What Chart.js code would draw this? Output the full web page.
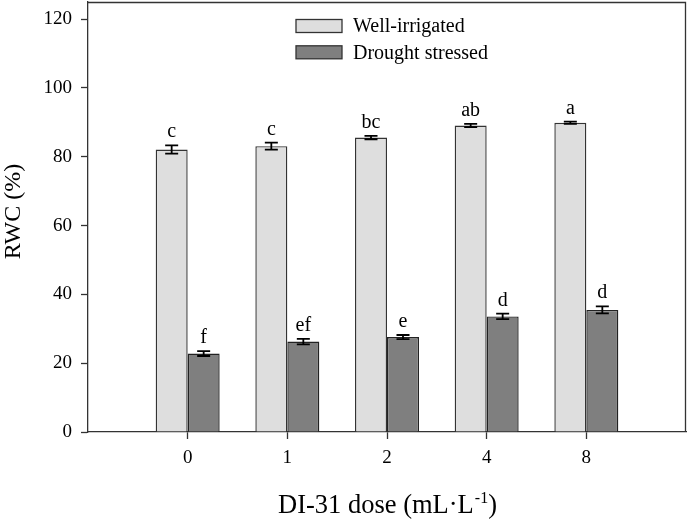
<!DOCTYPE html>
<html>
<head>
<meta charset="utf-8">
<script src="https://cdn.jsdelivr.net/npm/chart.js@4"></script>
<style>
html,body{margin:0;padding:0;background:#fff;}
#wrap{width:688px;height:522px;position:relative;}
</style>
</head>
<body>
<div id="wrap"><canvas id="c" width="688" height="522"></canvas></div>
<script>
const categories = ['0', '1', '2', '4', '8'];
const seriesNames = ['Well-irrigated', 'Drought stressed'];
const wellIrrigated = [82.1, 83.1, 85.6, 89.1, 89.9];
const wellIrrigatedErr = [1.2, 1.0, 0.5, 0.5, 0.3];
const wellIrrigatedLetters = ['c', 'c', 'bc', 'ab', 'a'];
const droughtStressed = [22.8, 26.3, 27.6, 33.6, 35.5];
const droughtStressedErr = [0.7, 0.8, 0.6, 0.8, 1.0];
const droughtStressedLetters = ['f', 'ef', 'e', 'd', 'd'];
const yTicks = [0, 20, 40, 60, 80, 100, 120];

const FONT = '"Liberation Serif", "Times New Roman", serif';
const labels = ['', ...categories, ''];
const pad = arr => [null, ...arr, null];
const errs = [pad(wellIrrigatedErr), pad(droughtStressedErr)];
const letters = [pad(wellIrrigatedLetters), pad(droughtStressedLetters)];

const overlay = {
  id: 'overlay',
  afterDatasetsDraw(chart) {
    const ctx = chart.ctx;
    const ca = chart.chartArea;
    const y = chart.scales.y;
    ctx.save();
    // frame top and right
    ctx.strokeStyle = '#333';
    ctx.lineWidth = 1.3;
    ctx.beginPath();
    ctx.moveTo(ca.left, ca.top + 0.5);
    ctx.lineTo(ca.right - 0.5, ca.top + 0.5);
    ctx.lineTo(ca.right - 0.5, ca.bottom);
    ctx.stroke();
    // error bars and letters
    chart.data.datasets.forEach((ds, di) => {
      const meta = chart.getDatasetMeta(di);
      ds.data.forEach((v, i) => {
        if (v == null) return;
        const bar = meta.data[i];
        const e = errs[di][i];
        const x = bar.x;
        const yt = y.getPixelForValue(v + e);
        const yb = y.getPixelForValue(v - e);
        ctx.strokeStyle = '#000';
        ctx.lineWidth = 1.8;
        ctx.beginPath();
        ctx.moveTo(x, yt); ctx.lineTo(x, yb);
        ctx.moveTo(x - 6.5, yt); ctx.lineTo(x + 6.5, yt);
        ctx.moveTo(x - 6.5, yb); ctx.lineTo(x + 6.5, yb);
        ctx.stroke();
        ctx.fillStyle = '#000';
        ctx.font = '20px ' + FONT;
        ctx.textAlign = 'center';
        ctx.textBaseline = 'alphabetic';
        ctx.fillText(letters[di][i], x, yt - 8);
      });
    });
    // legend
    chart.data.datasets.forEach((ds, di) => {
      const top = 19.5 + di * 26.3;
      ctx.fillStyle = ds.backgroundColor;
      ctx.fillRect(296, top, 46, 13);
      ctx.strokeStyle = '#333';
      ctx.lineWidth = 1.3;
      ctx.strokeRect(296, top, 46, 13);
      ctx.fillStyle = '#000';
      ctx.font = '20px ' + FONT;
      ctx.textAlign = 'left';
      ctx.textBaseline = 'middle';
      ctx.fillText(ds.label, 353, top + 7.5);
    });
    ctx.restore();
  },
  afterDraw(chart) {
    const ctx = chart.ctx;
    ctx.save();
    ctx.fillStyle = '#000';
    // x title with superscript
    ctx.font = '26.5px ' + FONT;
    ctx.textBaseline = 'alphabetic';
    ctx.textAlign = 'left';
    const main = 'DI-31 dose (mL\u00B7L';
    const sup = '-1';
    const close = ')';
    const wMain = ctx.measureText(main).width;
    ctx.font = '16px ' + FONT;
    const wSup = ctx.measureText(sup).width;
    ctx.font = '26.5px ' + FONT;
    const wClose = ctx.measureText(close).width;
    const total = wMain + wSup + wClose;
    let x0 = 387 - total / 2;
    const base = 513;
    ctx.fillText(main, x0, base);
    ctx.font = '16px ' + FONT;
    ctx.fillText(sup, x0 + wMain + 1, base - 10);
    ctx.font = '26.5px ' + FONT;
    ctx.fillText(close, x0 + wMain + wSup + 1, base);
    // y title
    ctx.translate(14, 211.5);
    ctx.rotate(-Math.PI / 2);
    ctx.font = '24px ' + FONT;
    ctx.textAlign = 'center';
    ctx.textBaseline = 'middle';
    ctx.fillText('RWC (%)', 0, 0);
    ctx.restore();
  }
};

new Chart(document.getElementById('c'), {
  type: 'bar',
  data: {
    labels: labels,
    datasets: [
      { label: seriesNames[0], data: pad(wellIrrigated), backgroundColor: '#dedede', borderColor: '#333', borderWidth: 1.4 },
      { label: seriesNames[1], data: pad(droughtStressed), backgroundColor: '#7f7f7f', borderColor: '#222', borderWidth: 1.4 }
    ]
  },
  options: {
    responsive: false,
    animation: false,
    devicePixelRatio: 1,
    layout: { padding: { top: 2, right: 2, left: 0, bottom: 0 } },
    datasets: { bar: { categoryPercentage: 0.642, barPercentage: 1.0 } },
    plugins: { legend: { display: false }, tooltip: { enabled: false } },
    scales: {
      x: {
        type: 'category',
        offset: false,
        afterFit: s => { s.height = 90; s.paddingLeft = 0; s.paddingRight = 0; },
        grid: {
          drawOnChartArea: false, drawTicks: true, tickLength: 7, offset: false,
          tickColor: c => (c.tick && c.tick.label !== '' ? '#333' : 'rgba(0,0,0,0)'),
          tickWidth: 1.3
        },
        border: { display: true, color: '#333', width: 1.3 },
        ticks: { color: '#000', font: { family: FONT, size: 19 }, padding: 8, maxRotation: 0, autoSkip: false }
      },
      y: {
        min: 0,
        max: 125,
        afterFit: s => { s.width = 88; s.paddingTop = 0; s.paddingBottom = 0; },
        afterBuildTicks: s => { s.ticks = yTicks.map(v => ({ value: v })); },
        grid: { drawOnChartArea: false, drawTicks: true, tickLength: 7, tickColor: '#333', tickWidth: 1.3 },
        border: { display: true, color: '#333', width: 1.3 },
        ticks: { color: '#000', font: { family: FONT, size: 19 }, padding: 9, includeBounds: false }
      }
    }
  },
  plugins: [overlay]
});
</script>
</body>
</html>
